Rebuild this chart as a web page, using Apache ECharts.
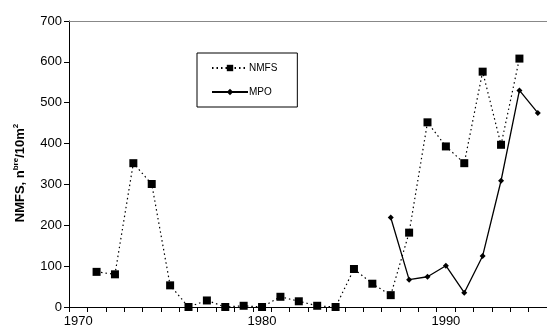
<!DOCTYPE html>
<html><head><meta charset="utf-8">
<script src="https://cdn.jsdelivr.net/npm/echarts@6/dist/echarts.min.js"></script>
<style>html,body{margin:0;padding:0;background:#fff}#c{width:547px;height:335px}</style>
</head><body><div id="c"></div>
<script>
const years = [];
for (let y = 1970; y <= 1995; y++) years.push(String(y));
const nmfs = [null, 86, 80, 352, 301, 53, 0, 16, 0, 3, 0, 25, 14, 3, 0, 93, 57, 29, 182, 452, 393, 352, 576, 397, 608, null];
const mpo = [null, null, null, null, null, null, null, null, null, null, null, null, null, null, null, null, null, 219, 67, 74, 101, 35, 125, 309, 530, 475];
const yTicks = [0, 100, 200, 300, 400, 500, 600, 700];

const chart = echarts.init(document.getElementById('c'));
const font = 'Liberation Sans, Arial, sans-serif';
chart.setOption({
  animation: false,
  grid: {left: 69, top: 21, right: 0, bottom: 28},
  legend: {
    orient: 'vertical', left: 197, top: 53,
    padding: [10, 20, 10, 14], itemGap: 14,
    borderColor: '#000', borderWidth: 1,
    itemWidth: 36, itemHeight: 8,
    textStyle: {fontSize: 10, fontFamily: font, color: '#000', padding: [0, 0, 0, -4]},
    data: ['NMFS', 'MPO']
  },
  xAxis: [{
    type: 'category', data: years, boundaryGap: true,
    axisLine: {lineStyle: {color: '#000', width: 1}},
    axisTick: {show: true, interval: 0, length: 5, lineStyle: {color: '#000'}},
    axisLabel: {interval: (i) => i % 10 === 0, fontSize: 13, fontFamily: font, color: '#000', margin: 8},
    splitLine: {show: false}
  }, {
    type: 'category', data: years, position: 'top',
    axisLine: {show: true, lineStyle: {color: '#888', width: 1}},
    axisTick: {show: false}, axisLabel: {show: false}
  }],
  yAxis: {
    type: 'value', min: 0, max: 700, interval: 100,
    axisLine: {show: true, lineStyle: {color: '#000'}},
    axisTick: {show: true, length: 5, lineStyle: {color: '#000'}},
    axisLabel: {fontSize: 13, fontFamily: font, color: '#000', margin: 7,
      formatter: (v) => yTicks.includes(v) ? String(v) : ''},
    splitLine: {show: false},
    name: '{b|NMFS, n}{s|bre}{b|/10m}{s|2}',
    nameLocation: 'middle', nameRotate: 90, nameGap: 41,
    nameTextStyle: {
      padding: [0, 0, 0, -18],
      rich: {
        b: {fontSize: 13, fontWeight: 'bold', fontFamily: font, color: '#000'},
        s: {fontSize: 8, fontWeight: 'bold', fontFamily: font, color: '#000', verticalAlign: 'top', padding: [0, 0, 8, 0]}
      }
    }
  },
  series: [{
    name: 'NMFS', type: 'line', data: nmfs, connectNulls: false,
    symbol: 'rect', symbolSize: 8,
    itemStyle: {color: '#000'},
    lineStyle: {color: '#000', width: 1.2, type: [1.5, 3]}
  }, {
    name: 'MPO', type: 'line', data: mpo,
    symbol: 'diamond', symbolSize: 6,
    itemStyle: {color: '#000'},
    lineStyle: {color: '#000', width: 1.3}
  }]
});
</script></body></html>
